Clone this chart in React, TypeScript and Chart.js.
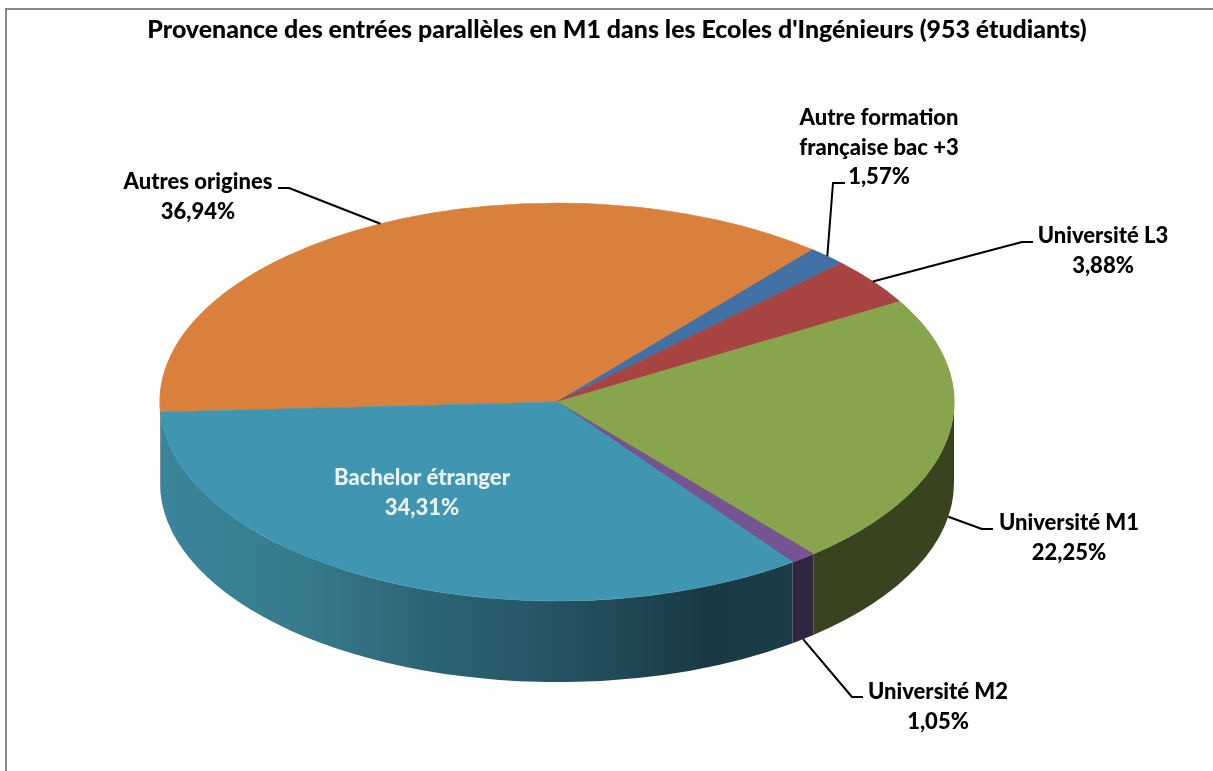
import React, { useEffect, useRef } from "react";
import { Chart, registerables } from "chart.js";

Chart.register(...registerables);

const TITLE = "Provenance des entrées parallèles en M1 dans les Ecoles d'Ingénieurs (953 étudiants)";
const categories = [
  "Autres origines",
  "Autre formation\nfrançaise bac +3",
  "Université L3",
  "Université M1",
  "Université M2",
  "Bachelor étranger",
];
const percentages = [36.94, 1.57, 3.88, 22.25, 1.05, 34.31];
const topColors = ["#d9813c", "#4271a6", "#a74442", "#88a44d", "#755591", "#4096b0"];
const wallColors = ["#8a4f22", "#274466", "#652928", "#39431f", "#31253f", "#2a5e6e"];

const FONT = "Lato";
const CX = 557, CY = 402, RX = 397, RY = 199, DEPTH = 81;
const TEXT_SIZE = 22;
const LINE_H = 29.5;

// label centre x, first line y, and leader elbow points (from far end toward the pie)
const labelLayout = [
  { x: 198, y: 182, color: "#000", leader: [[278, 188], [289, 188]], wall: false },
  { x: 879, y: 118, color: "#000", leader: [[845, 183], [833, 183]], wall: false },
  { x: 1103, y: 236, color: "#000", leader: [[1033, 242], [1022, 242]], wall: false },
  { x: 1069, y: 523, color: "#000", leader: [[993, 529], [982, 529]], wall: true },
  { x: 938, y: 692, color: "#000", leader: [[863, 697], [852, 697]], wall: true },
  { x: 422, y: 478, color: "#e9f1f3", leader: null, wall: false },
];

const pie3d = {
  id: "pie3d",
  beforeDraw(chart: any) {
    const { ctx, width, height } = chart;
    ctx.save();
    ctx.fillStyle = "#fff";
    ctx.fillRect(0, 0, width, height);
    ctx.strokeStyle = "#888";
    ctx.lineWidth = 2;
    ctx.beginPath();
    ctx.moveTo(6, height);
    ctx.lineTo(6, 9);
    ctx.lineTo(width, 9);
    ctx.stroke();
    ctx.restore();
  },
  beforeDatasetsDraw(chart: any) {
    const { ctx } = chart;
    const arcs = chart.getDatasetMeta(0).data;
    ctx.save();
    arcs.forEach((arc: any, i: number) => {
      const two = Math.PI * 2;
      let s = arc.startAngle % two;
      if (s < 0) s += two;
      const e = s + (arc.endAngle - arc.startAngle);
      for (const off of [0, two]) {
        const a0 = Math.max(s, off);
        const a1 = Math.min(e, off + Math.PI);
        if (a1 <= a0) continue;
        ctx.beginPath();
        ctx.ellipse(CX, CY, RX, RY, 0, a0, a1, false);
        ctx.ellipse(CX, CY + DEPTH, RX, RY, 0, a1, a0, true);
        ctx.closePath();
        if (i === 5) {
          const g = ctx.createLinearGradient(CX - RX, 0, 800, 0);
          g.addColorStop(0, "#3a859c");
          g.addColorStop(0.22, "#367b8c");
          g.addColorStop(0.41, "#2d6576");
          g.addColorStop(0.61, "#255563");
          g.addColorStop(0.85, "#193a45");
          g.addColorStop(1, "#1b3c48");
          ctx.fillStyle = g;
        } else {
          ctx.fillStyle = wallColors[i];
        }
        ctx.fill();
      }
    });
    ctx.restore();
    const el = arcs[0];
    ctx.save();
    ctx.translate(CX, CY);
    ctx.scale(RX / el.outerRadius, RY / el.outerRadius);
    ctx.translate(-el.x, -el.y);
  },
  afterDatasetsDraw(chart: any) {
    const { ctx } = chart;
    ctx.restore();
    const arcs = chart.getDatasetMeta(0).data;
    ctx.save();
    ctx.lineWidth = 2;
    ctx.strokeStyle = "#000";
    ctx.lineJoin = "round";
    arcs.forEach((arc: any, i: number) => {
      const lay = labelLayout[i];
      if (lay.leader) {
        const mid = (arc.startAngle + arc.endAngle) / 2;
        const ax = CX + RX * Math.cos(mid);
        const ay = CY + RY * Math.sin(mid) + (lay.wall ? DEPTH : 0);
        ctx.beginPath();
        ctx.moveTo(lay.leader[0][0], lay.leader[0][1]);
        ctx.lineTo(lay.leader[1][0], lay.leader[1][1]);
        ctx.lineTo(ax, ay);
        ctx.stroke();
      }
      const lines = [
        ...categories[i].split("\n"),
        percentages[i].toFixed(2).replace(".", ",") + "%",
      ];
      ctx.font = `900 ${TEXT_SIZE}px ${FONT}`;
      ctx.textAlign = "center";
      ctx.textBaseline = "middle";
      ctx.fillStyle = lay.color;
      lines.forEach((t, k) => ctx.fillText(t, lay.x, lay.y + k * LINE_H));
    });
    ctx.restore();
  },
};

export default function App() {
  const ref = useRef<HTMLCanvasElement>(null);
  useEffect(() => {
    const chart = new Chart(ref.current as HTMLCanvasElement, {
      type: "pie",
      data: {
        labels: categories,
        datasets: [
          {
            data: percentages,
            backgroundColor: topColors,
            borderColor: topColors,
            borderWidth: 1,
            clip: false,
          } as any,
        ],
      },
      options: {
        responsive: false,
        animation: false,
        rotation: 267.1,
        layout: { padding: { left: 21, top: 14 } },
        plugins: {
          legend: { display: false },
          tooltip: { enabled: false },
          title: {
            display: true,
            text: TITLE,
            color: "#000",
            font: { family: FONT, size: 24.9, weight: "900" },
            padding: { top: 1, bottom: 10 },
          },
        },
      },
      plugins: [pie3d],
    } as any);
    return () => chart.destroy();
  }, []);
  return (
    <canvas
      ref={ref}
      width={1213}
      height={771}
      style={{ position: "fixed", left: 0, top: 0, width: 1213, height: 771, display: "block" }}
    />
  );
}
